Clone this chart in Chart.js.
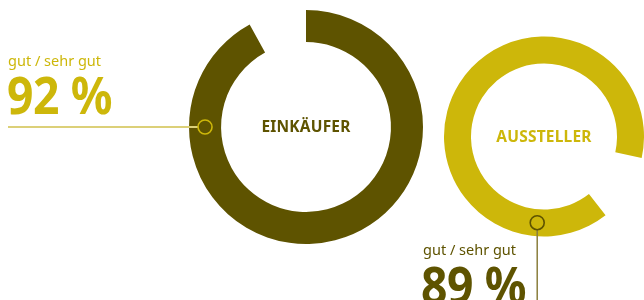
<!DOCTYPE html>
<html><head><meta charset="utf-8">
<script src="https://cdn.jsdelivr.net/npm/chart.js@4"></script>
<style>
html,body{margin:0;padding:0;background:#fff;width:644px;height:300px;overflow:hidden;}
#wrap{position:relative;width:644px;height:300px;overflow:hidden;font-family:"Noto Sans",sans-serif;}
canvas{position:absolute;left:0;top:0;}
.t{position:absolute;line-height:1;white-space:nowrap;z-index:5;}
.c{transform:translate(-50%,-50%);font-weight:700;font-size:15.5px;letter-spacing:0.2px;}
.big{font-size:52px;font-weight:700;transform:scaleX(0.89);transform-origin:0 0;letter-spacing:-0.5px;}
.small{font-size:14.5px;}
</style></head>
<body><div id="wrap">
<canvas id="c1" width="644" height="300"></canvas>
<canvas id="c2" width="644" height="300"></canvas>
<div class="t small" style="left:8px;top:52.5px;color:#cdb70a;">gut / sehr gut</div>
<div class="t big" style="left:7px;top:68px;color:#cdb70a;">92 %</div>
<div class="t c" id="l1" style="color:#5e5300;">EINKÄUFER</div>
<div class="t c" id="l2" style="color:#cdb70a;">AUSSTELLER</div>
<div class="t small" style="left:423px;top:242px;color:#5e5300;">gut / sehr gut</div>
<div class="t big" style="left:421px;top:258px;color:#5e5300;">89 %</div>
</div>
<script>
const groups = ["EINKÄUFER", "AUSSTELLER"];
const shares = [92, 89];
const valueLabels = ["92 %", "89 %"];
const olive = "#5e5300", yellow = "#cdb70a";

function markerPlugin(angleDeg, stroke, lineColor, lineWidth, dir) {
  return {
    id: 'marker',
    afterDraw(chart) {
      const arc = chart.getDatasetMeta(0).data[0];
      const ctx = chart.ctx;
      const rMid = (arc.innerRadius + arc.outerRadius) / 2;
      const a = (angleDeg - 90) * Math.PI / 180;
      const mx = arc.x + rMid * Math.cos(a), my = arc.y + rMid * Math.sin(a);
      const mr = 7;
      ctx.save();
      ctx.strokeStyle = lineColor; ctx.lineWidth = lineWidth;
      ctx.beginPath();
      if (dir === 'left') { ctx.moveTo(8, my); ctx.lineTo(mx - mr, my); }
      else { ctx.moveTo(mx, my + mr); ctx.lineTo(mx, chart.height); }
      ctx.stroke();
      ctx.strokeStyle = stroke; ctx.lineWidth = 1.6;
      ctx.beginPath(); ctx.arc(mx, my, mr, 0, Math.PI * 2); ctx.stroke();
      ctx.restore();
      const lab = document.getElementById(dir === 'left' ? 'l1' : 'l2');
      lab.style.left = arc.x + 'px'; lab.style.top = arc.y + 'px';
    }
  };
}

function makeChart(id, value, color, pad, rotation, cut, plugin) {
  return new Chart(document.getElementById(id), {
    type: 'doughnut',
    data: { labels: ['gut / sehr gut', 'rest'],
      datasets: [{ data: [value, 100 - value], backgroundColor: [color, 'rgba(0,0,0,0)'], borderWidth: 0 }] },
    options: { responsive: false, animation: false, rotation: rotation, cutout: cut,
      layout: { padding: pad },
      plugins: { legend: { display: false }, tooltip: { enabled: false } } },
    plugins: [plugin]
  });
}

makeChart('c1', shares[0], olive, { left: 189, right: 221, top: 10, bottom: 56 }, 0, '72.6%',
  markerPlugin(270, yellow, '#dcd078', 2, 'left'));
makeChart('c2', shares[1], yellow, { left: 444, right: 0, top: 35, bottom: 62 }, 142, '73%',
  markerPlugin(184.5, olive, '#8a7e3c', 1.5, 'down'));
</script></body></html>
